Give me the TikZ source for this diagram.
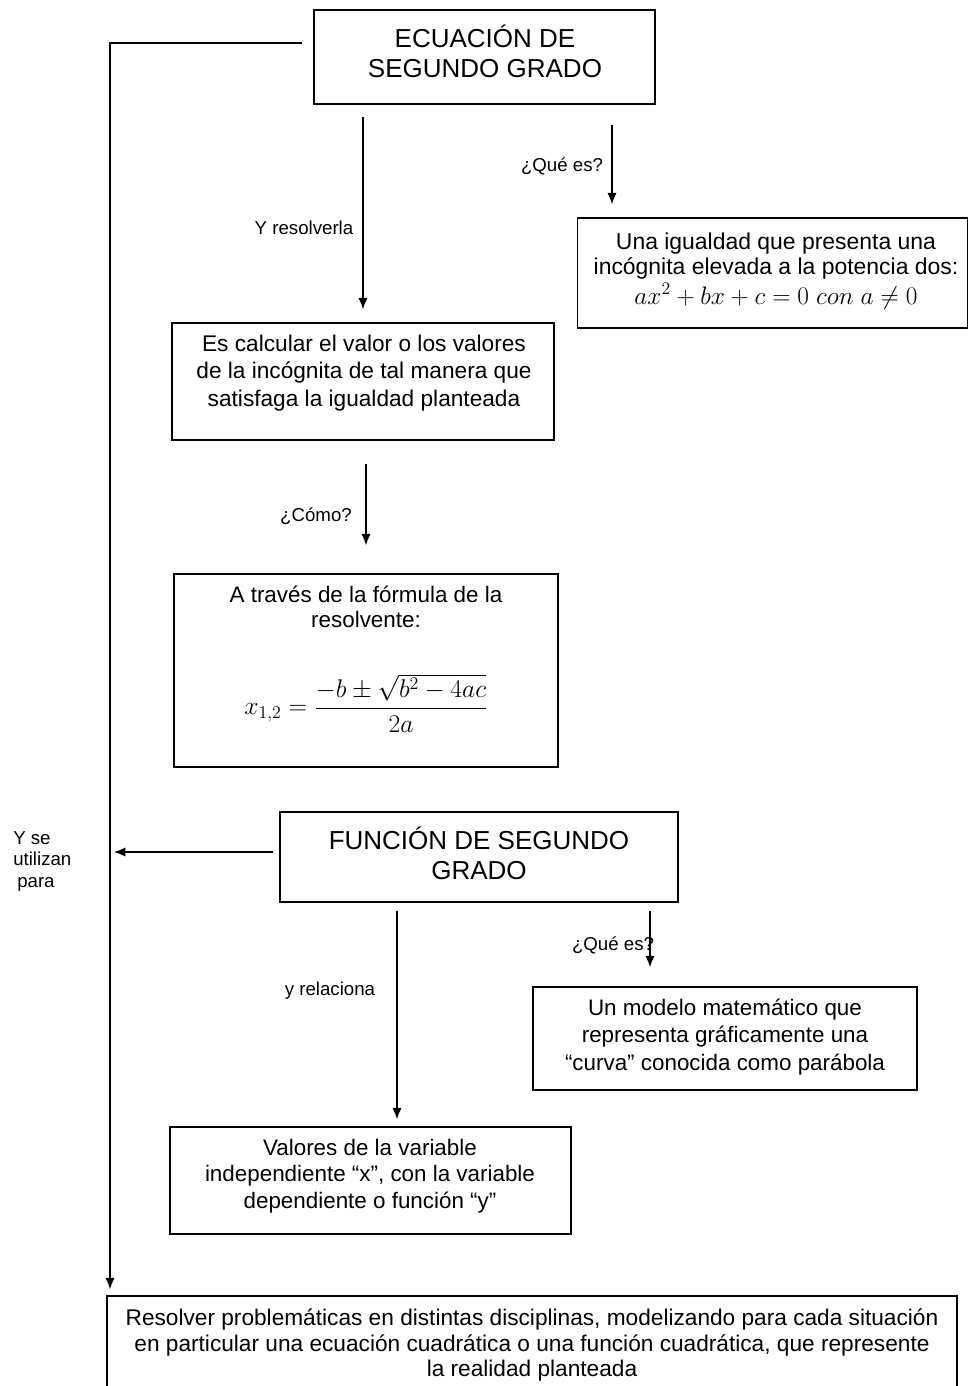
\RequirePackage{fix-cm}
\documentclass[tikz,border=0pt]{standalone}
\usepackage{fontspec}
\setmainfont{Liberation Sans}
\usetikzlibrary{arrows.meta}
\begin{document}
\begin{tikzpicture}[x=0.75pt,y=-0.75pt,
  bx/.style 2 args={draw, line width=1.1pt, inner sep=0pt,
    minimum width={#1*0.75pt}, minimum height={#2*0.75pt}},
  tx/.style={align=center, inner sep=0pt},
  lbl/.style={inner sep=0pt, font=\fontsize{14}{16}\selectfont},
  arr/.style={line width=1.2pt, -{Latex[length=8.5pt,width=7pt]}}]
\useasboundingbox (0,0) rectangle (969,1386);
% column coordinates
\coordinate (cl) at (110,0);
\coordinate (cq) at (612,0);
\coordinate (cr) at (397,0);
\coordinate (cm) at (650,0);
% boxes
\node[bx={341}{94}] (e) at (484.5,57) {};
\node[tx, font=\fontsize{19.5}{22.5}\selectfont] (et) at (485,51) {ECUACIÓN DE\\SEGUNDO GRADO};

\node[bx={390}{110}] (q) at (772.5,273) {};
\node[tx, font=\fontsize{17.2}{18.8}\selectfont] (qt) at (776,271) {Una igualdad que presenta una\\incógnita elevada a la potencia dos:\\[2pt]
  {\fontsize{19}{20}\selectfont $ax^2+bx+c=0\;con\;a\neq 0$}};

\node[bx={382}{117}] (es) at (363,381.5) {};
\node[tx, font=\fontsize{17}{20.8}\selectfont] (est) at (364,373) {Es calcular el valor o los valores\\de la incógnita de tal manera que\\satisfaga la igualdad planteada};

\node[bx={384}{193}] (at) at (366,670.5) {};
\node[tx, font=\fontsize{16.8}{18.8}\selectfont] (att) at (366,659) {A través de la fórmula de la\\resolvente:\\[34pt]
  {\fontsize{19.2}{21}\selectfont $x_{1,2}=\displaystyle\frac{-b\pm\sqrt{b^2-4ac}}{2a}$}};

\node[bx={398}{90}] (f) at (479,857) {};
\node[tx, font=\fontsize{19.5}{22.5}\selectfont] (ft) at (479,853) {FUNCIÓN DE SEGUNDO\\GRADO};

\node[bx={384}{103}] (m) at (725,1038.5) {};
\node[tx, font=\fontsize{16.8}{20.5}\selectfont] (mt) at (725,1037) {Un modelo matemático que\\representa gráficamente una\\“curva” conocida como parábola};

\node[bx={401}{107}] (v) at (370.5,1180.5) {};
\node[tx, font=\fontsize{16.8}{20}\selectfont] (vt) at (370,1176) {Valores de la variable\\independiente “x”, con la variable\\dependiente o función “y”};

\node[bx={850}{100}] (r) at (532,1346) {};
\node[tx, font=\fontsize{17}{18.8}\selectfont] (rt) at (532,1345) {Resolver problemáticas en distintas disciplinas, modelizando para cada situación\\en particular una ecuación cuadrática o una función cuadrática, que represente\\la realidad planteada};

% labels
\node[lbl] (l1) at (304,228) {Y resolverla};
\node[lbl] (l2) at (562,166) {¿Qué es?};
\node[lbl] (l3) at (316,516) {¿Cómo?};
\node[lbl] (l4) at (330,991) {y relaciona};
\node[lbl] (l5) at (613,945) {¿Qué es?};
\node[lbl, align=left, anchor=north west, font=\fontsize{14}{16.2}\selectfont] (l6) at (13,831) {Y se\\utilizan\\\hspace*{3pt}para};

% connectors
\draw[arr, shorten <=9pt, shorten >=9.75pt] (e.south -| es.north) -- (es.north);
\draw[arr, shorten <=15pt, shorten >=9.75pt] (e.south -| cq) -- (q.north -| cq);
\draw[arr, shorten <=17.25pt, shorten >=21pt] (es.south -| at.north) -- (at.north);
\draw[arr, shorten <=6pt, shorten >=5.25pt] (f.south -| cr) -- (v.north -| cr);
\draw[arr, shorten <=6pt, shorten >=14.25pt] (f.south -| cm) -- (m.north -| cm);
\draw[arr, shorten <=4.5pt, shorten >=3pt] ([yshift=3.75pt]f.west) -- ([yshift=3.75pt]f.west -| cl);
\draw[arr, shorten <=8.25pt, shorten >=4.5pt] ([yshift=10.5pt]e.west) -| (r.north -| cl);
\end{tikzpicture}
\end{document}
